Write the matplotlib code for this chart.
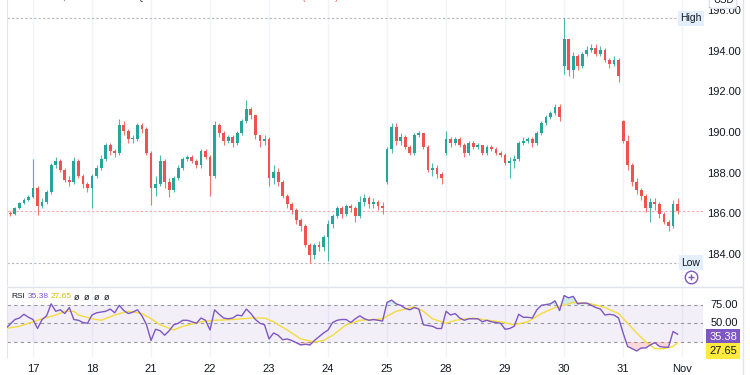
import numpy as np
import matplotlib.pyplot as plt
from matplotlib.lines import Line2D
from matplotlib.transforms import blended_transform_factory

W, H = 750, 375

# ---- data (30-minute bars) ----
day_labels = ['17', '18', '21', '22', '23', '24', '25', '28', '29', '30', '31', 'Nov']
day_start = [6, 19, 32, 45, 58, 71, 84, 97, 110, 123, 136, 149]

opens = [
    186.2, 186.05, 186.0, 186.3, 186.55, 186.7,                                            # Oct 16
    186.85, 187.3, 186.4, 186.6, 187.1, 188.4, 188.6, 188.2, 187.7, 187.6, 188.6, 187.9, 187.5,  # 17
    187.3, 187.9, 188.3, 188.7, 189.4, 189.1, 189.0, 190.4, 190.1, 189.7, 189.7, 190.4, 190.2,   # 18
    189.0, 187.3, 187.5, 188.6, 187.6, 187.2, 187.8, 188.3, 188.7, 188.8, 188.6, 188.4, 189.1,   # 21
    188.8, 187.9, 190.4, 190.0, 189.6, 189.8, 189.5, 190.0, 190.6, 191.2, 190.9, 189.9, 189.6,   # 22
    189.7, 187.8, 188.1, 187.6, 186.9, 186.5, 186.2, 185.7, 185.4, 184.5, 184.0, 184.5, 184.4,   # 23
    184.9, 185.5, 185.9, 186.3, 186.0, 186.4, 186.3, 185.9, 186.6, 186.8, 186.5, 186.6, 186.4,   # 24
    187.6, 189.2, 190.3, 189.6, 189.8, 189.3, 189.0, 189.9, 190.0, 189.3, 188.2, 188.3, 188.0,   # 25
    189.0, 189.7, 189.5, 189.7, 189.4, 189.0, 189.5, 189.3, 189.4, 189.0, 189.3, 189.2, 189.0,   # 28
    188.9, 188.5, 188.6, 188.7, 189.5, 189.6, 189.7, 189.5, 190.0, 190.5, 190.8, 191.0, 191.3,   # 29
    193.3, 194.6, 193.1, 193.8, 193.3, 193.9, 194.1, 194.2, 193.9, 194.1, 193.6, 193.4, 193.6,   # 30
    190.6, 189.6, 188.4, 187.6, 187.2, 186.9, 186.3, 186.6, 186.5, 186.0, 185.6, 185.4, 186.5,   # 31
]
highs = [
    186.25, 186.15, 186.35, 186.6, 186.8, 186.95,
    188.7, 187.4, 186.8, 187.2, 188.5, 188.8, 188.7, 188.3, 187.9, 188.8, 188.7, 188.0, 187.6,
    188.0, 188.4, 188.9, 189.5, 189.5, 189.2, 190.7, 190.6, 190.2, 189.9, 190.5, 190.5, 190.3,
    189.1, 187.9, 188.9, 188.7, 187.8, 187.9, 188.4, 188.8, 188.9, 188.9, 188.7, 189.2, 189.2,
    188.9, 190.6, 190.5, 190.1, 189.9, 189.9, 190.1, 190.7, 191.6, 191.3, 190.9, 189.9, 189.9,
    189.8, 188.4, 188.3, 187.7, 187.0, 186.6, 186.3, 185.8, 185.5, 184.6, 184.6, 184.7, 185.0,
    185.7, 186.0, 186.4, 186.4, 186.5, 186.5, 186.4, 186.9, 187.0, 186.9, 186.8, 186.7, 186.6,
    189.3, 190.5, 190.5, 190.0, 189.9, 189.4, 190.0, 190.1, 190.0, 189.4, 188.5, 188.4, 188.1,
    190.1, 189.8, 189.8, 189.8, 189.5, 189.6, 189.6, 189.5, 189.4, 189.4, 189.4, 189.3, 189.1,
    189.0, 188.8, 188.9, 189.6, 189.8, 189.8, 189.8, 190.1, 190.6, 190.9, 191.1, 191.4, 191.4,
    195.64, 194.6, 194.0, 193.9, 194.0, 194.3, 194.4, 194.4, 194.3, 194.2, 193.7, 193.8, 193.7,
    190.65, 189.9, 188.5, 187.8, 187.3, 187.0, 186.8, 186.8, 186.6, 186.1, 185.7, 186.7, 186.8,
]
lows = [
    185.95, 185.9, 185.95, 186.25, 186.5, 186.65,
    186.8, 185.95, 186.3, 186.5, 187.0, 188.3, 188.1, 187.6, 187.4, 187.5, 187.8, 187.3, 187.1,
    186.3, 187.8, 188.2, 188.6, 188.9, 188.8, 188.9, 189.9, 189.5, 189.5, 189.6, 190.0, 188.9,
    186.45, 186.9, 187.4, 187.3, 186.85, 187.1, 187.7, 188.2, 188.6, 188.5, 188.3, 188.3, 188.7,
    186.9, 187.8, 189.8, 189.4, 189.5, 189.3, 189.4, 189.9, 190.5, 190.7, 189.7, 189.3, 189.4,
    187.4, 187.5, 187.4, 186.8, 186.3, 186.0, 185.5, 185.2, 184.4, 183.62, 183.8, 184.2, 184.2,
    183.7, 185.3, 185.8, 185.8, 185.9, 186.1, 185.6, 185.8, 186.4, 186.3, 186.3, 186.2, 186.0,
    187.5, 189.0, 189.4, 189.4, 189.2, 188.9, 188.9, 189.8, 189.2, 188.1, 187.9, 187.8, 187.5,
    188.9, 189.3, 189.4, 189.3, 188.8, 188.9, 189.2, 189.2, 188.9, 188.9, 189.1, 188.9, 188.8,
    188.4, 187.8, 188.3, 188.6, 189.4, 189.5, 189.3, 189.4, 189.9, 190.4, 190.7, 190.9, 190.6,
    192.9, 192.8, 192.7, 193.1, 193.2, 193.8, 194.0, 193.8, 193.8, 193.5, 193.2, 193.3, 192.5,
    189.5, 188.2, 187.4, 187.0, 186.7, 186.1, 185.6, 186.2, 185.8, 185.5, 185.2, 185.3, 186.0,
]
closes = [
    186.05, 186.0, 186.3, 186.55, 186.7, 186.85,
    187.3, 186.4, 186.6, 187.1, 188.4, 188.6, 188.2, 187.7, 187.6, 188.6, 187.9, 187.5, 187.3,
    187.9, 188.3, 188.7, 189.4, 189.1, 189.0, 190.4, 190.1, 189.7, 189.7, 190.4, 190.2, 189.0,
    187.3, 187.5, 188.6, 187.6, 187.2, 187.8, 188.3, 188.7, 188.8, 188.6, 188.4, 189.1, 188.8,
    187.9, 190.4, 190.0, 189.6, 189.8, 189.5, 190.0, 190.6, 191.2, 190.9, 189.9, 189.6, 189.7,
    187.8, 188.1, 187.6, 186.9, 186.5, 186.2, 185.7, 185.4, 184.5, 184.0, 184.5, 184.4, 184.9,
    185.5, 185.9, 186.3, 186.0, 186.4, 186.3, 185.9, 186.6, 186.8, 186.5, 186.6, 186.4, 186.3,
    189.2, 190.3, 189.6, 189.8, 189.3, 189.0, 189.9, 190.0, 189.3, 188.2, 188.3, 188.0, 187.8,
    189.7, 189.5, 189.7, 189.4, 189.0, 189.5, 189.3, 189.4, 189.0, 189.3, 189.2, 189.0, 188.9,
    188.5, 188.6, 188.7, 189.5, 189.6, 189.7, 189.5, 190.0, 190.5, 190.8, 191.0, 191.3, 190.8,
    194.6, 193.1, 193.8, 193.3, 193.9, 194.1, 194.2, 193.9, 194.1, 193.6, 193.4, 193.6, 192.8,
    189.6, 188.4, 187.6, 187.2, 186.9, 186.3, 186.6, 186.5, 186.0, 185.6, 185.4, 186.5, 186.14,
]

rsi = [
    43, 49, 55, 57, 62, 58,
    55, 43, 55, 60, 76, 66, 68, 63, 71, 55, 54, 51, 50,
    61, 64, 65, 66, 69, 64, 74, 67, 63, 65, 68, 60, 48,
    27, 42, 40, 34, 40, 48, 50, 54, 54, 52, 50, 57, 54,
    41, 68, 62, 57, 56, 57, 61, 60, 69, 63, 55, 50, 48,
    29, 37, 34, 28, 29, 27, 24, 21, 22, 21, 27, 32, 37,
    41, 51, 54, 55, 55, 51, 56, 60, 56, 54, 55, 54, 53,
    78, 81, 76, 74, 70, 68, 71, 69, 48, 47, 46, 43, 43,
    66, 61, 63, 57, 54, 56, 56, 56, 52, 54, 52, 51, 50,
    42, 43, 46, 62, 58, 58, 57, 68, 74, 75, 76, 80, 67,
    87, 84, 86, 76, 77, 77, 74, 71, 69, 61, 62, 61, 57,
    37, 19, 16, 13, 17, 17, 21, 24, 19, 18, 18, 39, 35.38,
]
rsi_ma_idx = [0, 3, 6, 8, 11, 13, 15, 16, 19, 21, 24, 27, 30, 32, 34, 37, 39, 43, 46, 50,
              54, 57, 59, 62, 65, 68, 70, 72, 75, 78, 81, 83, 86, 88, 90, 92, 94, 97, 99, 103,
              106, 109, 112, 115, 118, 121, 124, 125, 129, 132, 135, 137, 139, 141, 143, 145, 147, 148]
rsi_ma = [43, 46, 52, 56, 61, 66, 66, 61, 56, 54, 61, 66, 63, 56, 48, 41, 46, 52, 54, 55,
          57, 57, 52, 41, 29, 25, 27, 34, 48, 54, 55, 56, 66, 69, 72, 66, 56, 50, 54, 57,
          54, 52, 48, 52, 63, 71, 76, 78, 76, 71, 63, 50, 37, 25, 16, 16, 19, 24]

price_ticks = [196, 194, 192, 190, 188, 186, 184]
last_price = 186.14
day_high = 195.64
day_low = 183.62
rsi_last = '35.38'
rsi_ma_last = '27.65'

UP = '#26a69a'
DOWN = '#ef5350'
PURPLE = '#7e57c2'
YELLOW = '#f5dc3c'
TXT = '#131722'
GRID = '#f0f3fa'
BORDER = '#e0e3eb'

plt.rcParams['font.family'] = ['Liberation Sans', 'DejaVu Sans']


def frac(x0, y0, x1, y1):
    return [x0 / W, 1 - y1 / H, (x1 - x0) / W, (y1 - y0) / H]


fig = plt.figure(figsize=(7.5, 3.75), dpi=100)
fig.patch.set_facecolor('white')

ax = fig.add_axes(frac(7, 0, 703, 285))
ax2 = fig.add_axes(frac(7, 287, 703, 357))

xlim = (0.27, 153.6)
for a in (ax, ax2):
    a.set_xlim(*xlim)
    for s in a.spines.values():
        s.set_visible(False)
    a.spines['left'].set_visible(True)
    a.spines['left'].set_color(BORDER)
    a.tick_params(left=False, labelleft=False, bottom=False, labelbottom=False)
    for d in day_start:
        a.axvline(d, color=GRID, lw=1, zorder=0)

ax.set_ylim(182.52, 196.54)
ax2.set_ylim(4.9, 98.5)

# ---- candles ----
idx = np.arange(len(closes))
o = np.array(opens)
c = np.array(closes)
hi = np.array(highs)
lo = np.array(lows)
col = np.where(c >= o, UP, DOWN)
ax.vlines(idx, lo, hi, colors=col, lw=0.8, alpha=0.8, zorder=3)
body = np.where(np.abs(c - o) < 0.03, 0.03, c - o)
ax.bar(idx, body, bottom=o, width=0.62, color=col, edgecolor='none', zorder=4)

# high / low / last price lines
hl_end = (149.5 - xlim[0]) / (xlim[1] - xlim[0])
ax.axhline(day_high, xmax=hl_end, color='#b2b5be', lw=0.8, ls=(0, (2, 2)), zorder=1)
ax.axhline(day_low, xmax=hl_end, color='#b2b5be', lw=0.8, ls=(0, (2, 2)), zorder=1)
ax.axhline(last_price, color='#f7a9a7', lw=0.8, ls=(0, (2, 2)), zorder=1)

tr = blended_transform_factory(fig.transFigure, ax.transData)
for label, val in (('High', day_high), ('Low', day_low)):
    ax.text(691 / W, val, label, transform=tr, ha='center', va='center', fontsize=7.5,
            color=TXT, clip_on=False,
            bbox=dict(boxstyle='square,pad=0.25', fc='#e3effd', ec='none'))

# circled plus marker
ax.plot([691 / W], [1 - 277 / H], transform=fig.transFigure, marker='o', ms=9,
        mfc='white', mec=PURPLE, mew=1, clip_on=False)
ax.plot([691 / W], [1 - 277 / H], transform=fig.transFigure, marker='+', ms=5,
        mec=PURPLE, mew=1, clip_on=False)

# right price scale
for p in price_ticks:
    ax.text(724 / W, p, f'{p:.2f}', transform=tr, ha='center', va='center',
            fontsize=8, color=TXT, clip_on=False)
fig.text(723 / W, 1 - 0 / H, 'USD', ha='center', va='center', fontsize=7, color=TXT,
         bbox=dict(boxstyle='round,pad=0.35', fc='white', ec=BORDER), zorder=5)

# header (cut by the top edge)
fig.text(12 / W, 1.006, 'Amazon.com, Inc. · 15 · NASDAQ', ha='left', va='center',
         fontsize=6.3, color=TXT)
fig.text(136 / W, 1.006, 'O186.22 H186.43 L186.05 C186.14 −0.07 (−0.04%)',
         ha='left', va='center', fontsize=6.3, color=DOWN)

# ---- RSI pane ----
ax2.axhspan(25, 75, color=PURPLE, alpha=0.09, lw=0, zorder=0)
for lvl in (75, 50, 25):
    ax2.axhline(lvl, color='#9598a1', lw=0.8, ls=(0, (3, 3)), zorder=1)
r = np.array(rsi, dtype=float)
ax2.fill_between(idx, r, 75, where=r > 75, interpolate=True, color=UP, alpha=0.22, lw=0)
ax2.fill_between(idx, r, 25, where=r < 25, interpolate=True, color=DOWN, alpha=0.22, lw=0)
ax2.plot(idx, r, color=PURPLE, lw=1, zorder=3)
ax2.plot(rsi_ma_idx, rsi_ma, color=YELLOW, lw=1, zorder=2)

# date labels under the RSI pane
trx = blended_transform_factory(ax2.transData, fig.transFigure)
for d, lab in zip(day_start, day_labels):
    ax2.text(d, 1 - 369 / H, lab, transform=trx, ha='center', va='center',
             fontsize=8, color=TXT, clip_on=False)

tr2 = blended_transform_factory(fig.transFigure, ax2.transData)
for lvl in (75, 50):
    ax2.text(724 / W, lvl, f'{lvl:.2f}', transform=tr2, ha='center', va='center',
             fontsize=8, color=TXT, clip_on=False)
fig.text(723 / W, 1 - 337 / H, rsi_last, ha='center', va='center', fontsize=8,
         color='white', bbox=dict(boxstyle='square,pad=0.25', fc=PURPLE, ec='none'))
fig.text(723 / W, 1 - 351 / H, rsi_ma_last, ha='center', va='center', fontsize=8,
         color=TXT, bbox=dict(boxstyle='square,pad=0.25', fc='#ffeb3b', ec='none'))

# RSI legend
leg_y = 1 - 297 / H
fig.text(11 / W, leg_y, 'RSI', fontsize=6, color=TXT, va='center')
fig.text(28 / W, leg_y, rsi_last, fontsize=6, color=PURPLE, va='center')
fig.text(51 / W, leg_y, rsi_ma_last, fontsize=6, color='#e0bc00', va='center')
for xp in (77, 87, 97, 107):
    fig.text(xp / W, leg_y, 'ø', fontsize=6.5, color=TXT, va='center', ha='center')

# separators and right border
fig.add_artist(Line2D([7 / W, 743 / W], [1 - 287 / H] * 2, color=BORDER, lw=1))
fig.add_artist(Line2D([743 / W] * 2, [0, 1], color=BORDER, lw=1))

fig.savefig('out.png', dpi=100)
